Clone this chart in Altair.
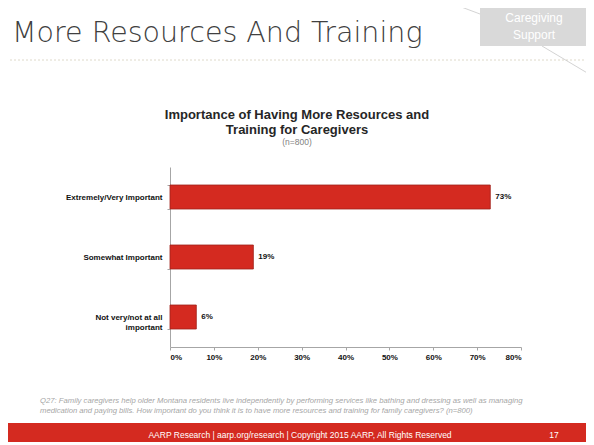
import altair as alt
import pandas as pd

categories = ["Extremely/Very Important", "Somewhat Important", "Not very/not at all important"]
values = [73, 19, 6]
x_ticks = [0, 0.1, 0.2, 0.3, 0.4, 0.5, 0.6, 0.7, 0.8]

slide_title = "More Resources And Training"
badge = ["Caregiving", "Support"]
chart_title = ["Importance of Having More Resources and", "Training  for Caregivers"]
subtitle = "(n=800)"
footnote = [
    "Q27: Family caregivers help older Montana residents live independently by performing services like bathing and dressing as well as managing",
    "medication and paying bills.  How important do you think it is to have more resources and training for family caregivers? (n=800)",
]
footer = "AARP Research | aarp.org/research | Copyright 2015 AARP, All Rights Reserved"
page_no = "17"

df = pd.DataFrame({"category": categories, "value": [v / 100 for v in values]})

FONT = "Liberation Sans"
RED = "#D42A20"

one = alt.Data(values=[{}])

def txt(text, x, y, **kw):
    return alt.Chart(one).mark_text(text=text, **kw).encode(x=alt.value(x), y=alt.value(y))

def rule(x, y, x2, y2, **kw):
    return alt.Chart(one).mark_rule(**kw).encode(x=alt.value(x), y=alt.value(y), x2=alt.value(x2), y2=alt.value(y2))

def rect(x, y, x2, y2, **kw):
    return alt.Chart(one).mark_rect(**kw).encode(x=alt.value(x), y=alt.value(y), x2=alt.value(x2), y2=alt.value(y2))

y_enc = alt.Y(
    "category:N", sort=categories,
    scale=alt.Scale(paddingInner=0.6, paddingOuter=0.3),
    axis=alt.Axis(
        title=None, labelFont=FONT, labelFontSize=8, labelFontWeight="bold", labelColor="#111",
        labelPadding=5, tickBand="extent", tickSize=3, tickColor="#A6A6A6", domainColor="#A6A6A6",
        labelLimit=200, labelLineHeight=10,
        labelExpr="datum.label == 'Not very/not at all important' ? ['Not very/not at all', 'important'] : datum.label",
    ),
)
x_enc = alt.X(
    "value:Q", scale=alt.Scale(domain=[0, 0.8], nice=False),
    axis=alt.Axis(
        title=None, values=x_ticks, format=".0%", grid=False, labelFont=FONT, labelFontSize=8,
        labelFontWeight="bold", labelColor="#111", tickSize=3, tickColor="#A6A6A6",
        domainColor="#A6A6A6", labelPadding=3,
    ),
)

base = alt.Chart(df)
bars = base.mark_bar(color=RED, stroke="#A0221A", strokeWidth=0.8).encode(x=x_enc, y=y_enc)
vlabels = base.mark_text(align="left", dx=5, font=FONT, fontSize=8, fontWeight="bold", color="#111").encode(
    x="value:Q", y=alt.Y("category:N", sort=categories), text=alt.Text("value:Q", format=".0%")
)

deco = [
    txt(slide_title, -158, -125, align="left", baseline="alphabetic", font="DejaVu Sans", fontSize=28.5, fontWeight=200, color="#404040"),
    rule(-160, -107, 420, -107, color="#D6CFBD", strokeDash=[2, 2], strokeWidth=0.8),
    rule(286, -162, 310, -153, color="#C8C8C8", strokeWidth=0.8),
    rule(372, -121, 424, -90, color="#C8C8C8", strokeWidth=0.8),
    rect(310, -162, 418, -121, color="#D9D9D9"),
    txt(badge, 364, -149, align="center", baseline="middle", font="Liberation Sans", fontSize=12, lineHeight=17, color="white"),
    txt(chart_title, 127, -52, align="center", baseline="middle", font=FONT, fontSize=13, fontWeight="bold", lineHeight=14.5, color="#262626"),
    txt(subtitle, 127, -25, align="center", baseline="middle", font=FONT, fontSize=8.5, color="#7F7F7F"),
    txt(footnote, -130, 234, align="left", baseline="middle", font="Liberation Sans", fontSize=7.7, fontStyle="italic", lineHeight=9.5, color="#A6A6A6"),
    rect(-167, 256, 421, 275, color=RED),
    txt(footer, 130, 268, align="center", baseline="middle", font="Liberation Sans", fontSize=8.5, color="white"),
    txt(page_no, 384, 268, align="center", baseline="middle", font="Liberation Sans", fontSize=8.5, color="white"),
]

chart = alt.layer(bars, vlabels, *deco).properties(
    width=351, height=180,
    padding={"left": 162, "top": 159, "right": 65, "bottom": 98},
    autosize=alt.AutoSizeParams(type="none"),
    background="white",
).configure_view(stroke=None)

chart.save("out.html", embed_options={"renderer": "svg", "actions": False})
